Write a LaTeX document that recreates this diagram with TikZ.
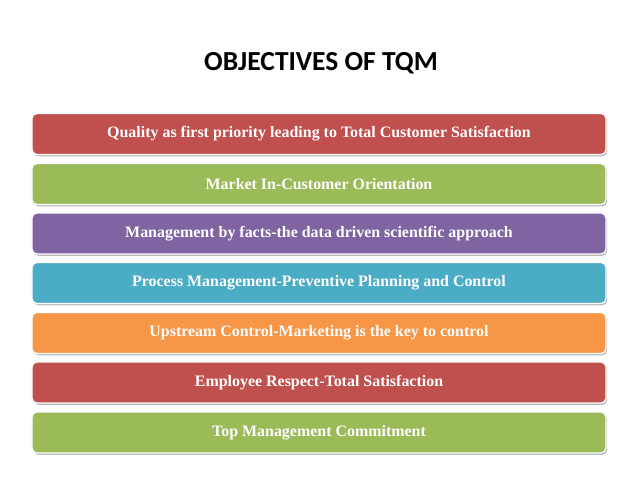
\documentclass[tikz,border=0pt]{standalone}
\usepackage{fontspec}
\setmainfont{Liberation Serif}
\newfontfamily\titlefont{Carlito}
\usetikzlibrary{shadows}
\definecolor{cred}{HTML}{C0504D}
\definecolor{cgreen}{HTML}{9BBB59}
\definecolor{cpurple}{HTML}{8064A2}
\definecolor{cblue}{HTML}{4BACC6}
\definecolor{corange}{HTML}{F79646}
\tikzset{
  bar/.style={draw=white, line width=1.2bp, rounded corners=5bp,
    minimum width=574bp, minimum height=41bp, inner sep=0pt,
    text=white, font=\fontsize{16}{19}\selectfont\bfseries,
    drop shadow={shadow xshift=1.2bp, shadow yshift=-1.8bp, fill=black!45, opacity=0.6}},
}
\begin{document}
\begin{tikzpicture}[x=1bp,y=-1bp]
\useasboundingbox (0,0) rectangle (638,479);
\fill[white] (0,0) rectangle (638,479);
\node[font=\titlefont\fontsize{27.6}{32}\selectfont\bfseries] (title) at (321,63) {OBJECTIVES OF TQM};
\node[bar, fill=cred] (b1) at (319,134) {\raisebox{-1.5bp}{Quality as first priority leading to Total Customer Satisfaction}};
\node[bar, fill=cgreen] (b2) at (319,184) {\raisebox{-1.5bp}{Market In-Customer Orientation}};
\node[bar, fill=cpurple] (b3) at (319,233.5) {\raisebox{-1.5bp}{Management by facts-the data driven scientific approach}};
\node[bar, fill=cblue] (b4) at (319,283) {\raisebox{-1.5bp}{Process Management-Preventive Planning and Control}};
\node[bar, fill=corange] (b5) at (319,333) {\raisebox{-1.5bp}{Upstream Control-Marketing is the key to control}};
\node[bar, fill=cred] (b6) at (319,382.5) {\raisebox{-1.5bp}{Employee Respect-Total Satisfaction}};
\node[bar, fill=cgreen] (b7) at (319,432.5) {\raisebox{-1.5bp}{Top Management Commitment}};
\end{tikzpicture}
\end{document}
